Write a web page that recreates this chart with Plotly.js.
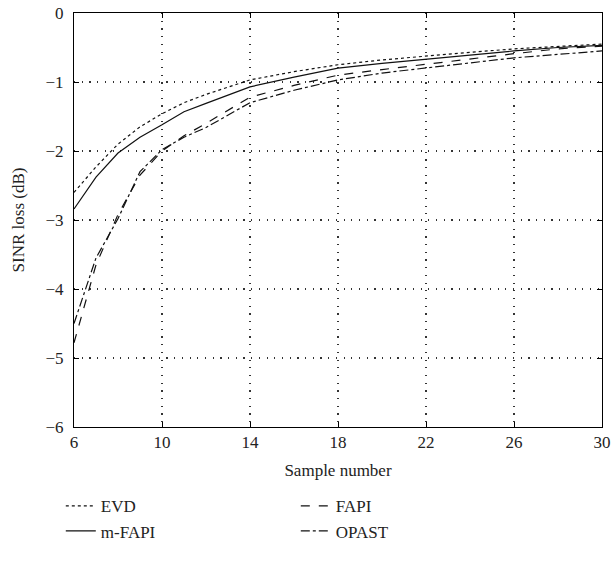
<!DOCTYPE html>
<html>
<head>
<meta charset="utf-8">
<script src="https://cdn.plot.ly/plotly-3.0.1.min.js"></script>
<style>html,body{margin:0;padding:0;background:#fff;}#chart{width:614px;height:567px;}</style>
</head>
<body>
<div id="chart"></div>
<script>
const sampleNumber = [6, 7, 8, 9, 10, 11, 12, 14, 16, 18, 20, 22, 24, 26, 28, 30];
const evd   = [-2.60, -2.23, -1.90, -1.65, -1.46, -1.30, -1.18, -0.97, -0.85, -0.75, -0.68, -0.62, -0.57, -0.52, -0.48, -0.45];
const mfapi = [-2.84, -2.38, -2.03, -1.80, -1.62, -1.43, -1.31, -1.07, -0.93, -0.80, -0.73, -0.67, -0.60, -0.55, -0.50, -0.47];
const fapi  = [-4.78, -3.65, -2.92, -2.35, -2.00, -1.78, -1.60, -1.22, -1.05, -0.90, -0.82, -0.74, -0.66, -0.59, -0.52, -0.48];
const opast = [-4.50, -3.55, -2.98, -2.30, -1.98, -1.80, -1.66, -1.30, -1.12, -0.97, -0.87, -0.80, -0.72, -0.65, -0.60, -0.55];
const xTicks = [6, 10, 14, 18, 22, 26, 30];
const yTicks = [0, -1, -2, -3, -4, -5, -6];

const font = {family: '"Liberation Serif", "DejaVu Serif", serif', size: 17, color: '#222'};
const mk = (name, y, dash) => ({x: sampleNumber, y: y, name: name, type: 'scatter', mode: 'lines',
  line: {color: '#111', width: 1.2, dash: dash}});
const traces = [mk('EVD', evd, 'dot'), mk('FAPI', fapi, 'dash'), mk('m-FAPI', mfapi, 'solid'), mk('OPAST', opast, 'dashdot')];

const axisCommon = {showline: true, linecolor: '#000', linewidth: 1, mirror: 'ticks', ticks: 'inside', ticklen: 5,
  tickcolor: '#000', showgrid: true, gridcolor: '#333', gridwidth: 1.2, griddash: '1.2px,6.5px', zeroline: false,
  tickfont: font};

const layout = {
  width: 614, height: 567,
  margin: {l: 74, r: 12, t: 13, b: 140},
  paper_bgcolor: '#fff', plot_bgcolor: '#fff',
  font: font,
  showlegend: true,
  xaxis: Object.assign({}, axisCommon, {range: [6, 30], tickvals: xTicks, ticktext: xTicks.map(String),
    ticklabelstandoff: 10.5, title: {text: 'Sample number', font: font, standoff: 12}}),
  yaxis: Object.assign({}, axisCommon, {range: [-6, 0], tickvals: yTicks, ticklabelstandoff: 6,
    title: {text: 'SINR loss (dB)', font: font, standoff: 16}}),
  legend: {orientation: 'h', x: -0.025, xanchor: 'left', y: -0.148, yanchor: 'top',
    entrywidth: 190, entrywidthmode: 'pixels', font: font, bgcolor: 'rgba(0,0,0,0)', traceorder: 'normal'}
};
Plotly.newPlot('chart', traces, layout, {displayModeBar: false, staticPlot: true});
</script>
</body>
</html>
